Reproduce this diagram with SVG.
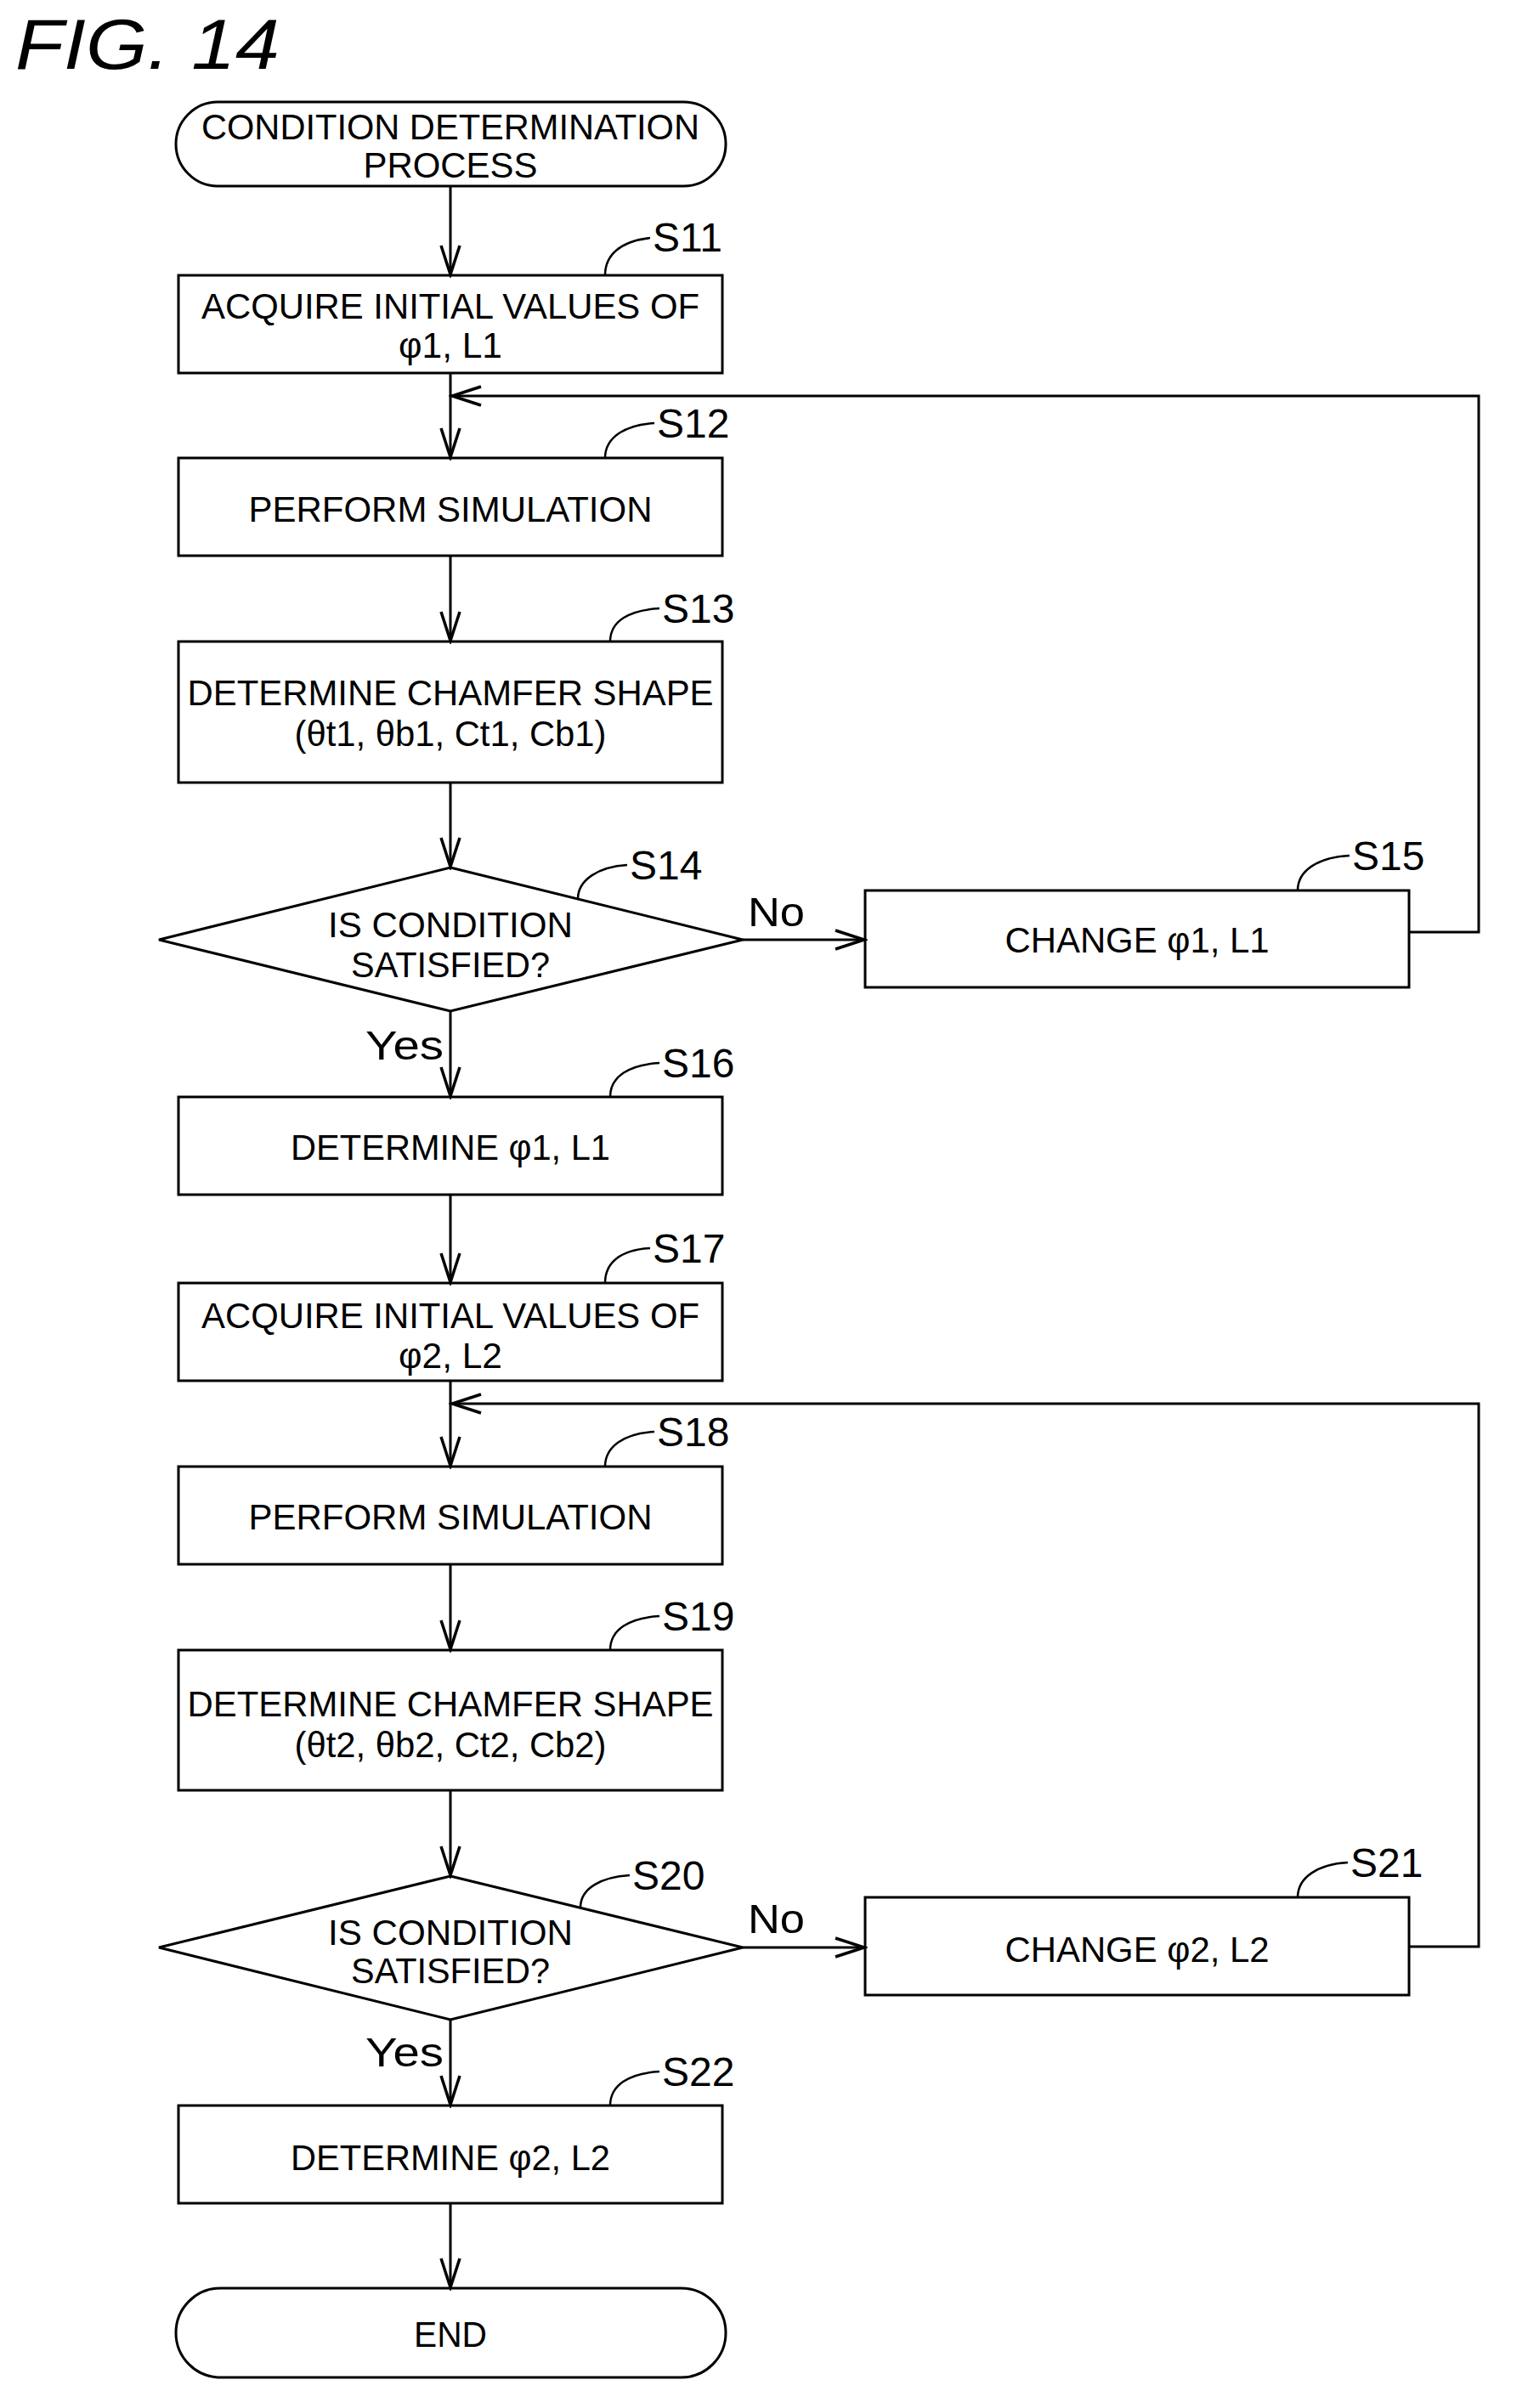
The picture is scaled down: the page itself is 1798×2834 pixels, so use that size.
<svg xmlns="http://www.w3.org/2000/svg" width="1798" height="2834" viewBox="0 0 1798 2834">
<style>
.b{fill:#fff;stroke:#000;stroke-width:3}
.t{font-family:"Liberation Sans",Arial,sans-serif;font-size:42px;text-anchor:middle;fill:#000}
.l{font-family:"Liberation Sans",Arial,sans-serif;font-size:48px;fill:#000}
.c{fill:none;stroke:#000;stroke-width:3;marker-end:url(#a)}
.h{fill:none;stroke:#000;stroke-width:2.5}
</style>
<defs><marker id="a" markerWidth="40" markerHeight="30" refX="36" refY="13" orient="auto" markerUnits="userSpaceOnUse" viewBox="0 0 40 26"><polyline points="2,2 36,13 2,24" fill="none" stroke="#000" stroke-width="3.5"/></marker></defs>
<rect width="1798" height="2834" fill="#fff"/>
<text x="18" y="81" font-family="Liberation Sans,Arial,sans-serif" font-style="italic" font-size="84" textLength="311" lengthAdjust="spacingAndGlyphs">FIG. 14</text>
<g id="S11"><rect class="b" x="210" y="324" width="640" height="115"/>
<text class="t" x="530" y="375" textLength="586" lengthAdjust="spacingAndGlyphs">ACQUIRE INITIAL VALUES OF</text>
<text class="t" x="530" y="421" textLength="122" lengthAdjust="spacingAndGlyphs">φ1, L1</text>
<path class="h" d="M712,324C712,300 730,284 765,280"/><text class="l" x="768" y="296">S11</text></g>
<g id="start"><rect class="b" x="207" y="120" width="647" height="99" rx="49.5"/>
<text class="t" x="530" y="164" textLength="586" lengthAdjust="spacingAndGlyphs">CONDITION DETERMINATION</text>
<text class="t" x="530" y="209" textLength="205" lengthAdjust="spacingAndGlyphs">PROCESS</text></g>
<g id="S12"><rect class="b" x="210" y="539" width="640" height="115"/>
<text class="t" x="530" y="614" textLength="475" lengthAdjust="spacingAndGlyphs">PERFORM SIMULATION</text>
<path class="h" d="M712,539C712,515 735,500 770,498"/><text class="l" x="773" y="515">S12</text></g>
<g id="S13"><rect class="b" x="210" y="755" width="640" height="166"/>
<text class="t" x="530" y="830" textLength="619" lengthAdjust="spacingAndGlyphs">DETERMINE CHAMFER SHAPE</text>
<text class="t" x="530" y="878" textLength="367" lengthAdjust="spacingAndGlyphs">(θt1, θb1, Ct1, Cb1)</text>
<path class="h" d="M718,755C718,731 740,718 776,716"/><text class="l" x="779" y="733">S13</text></g>
<g id="S14"><polygon class="b" points="530,1021 874,1106 530,1190 187,1106"/>
<text class="t" x="530" y="1103" textLength="288" lengthAdjust="spacingAndGlyphs">IS CONDITION</text>
<text class="t" x="530" y="1150" textLength="234" lengthAdjust="spacingAndGlyphs">SATISFIED?</text>
<path class="h" d="M680,1058C680,1035 705,1020 738,1018"/><text class="l" x="741" y="1035">S14</text></g>
<g id="S15"><rect class="b" x="1018" y="1048" width="640" height="114"/>
<text class="t" x="1338" y="1121" textLength="311" lengthAdjust="spacingAndGlyphs">CHANGE φ1, L1</text>
<path class="h" d="M1527,1048C1527,1025 1550,1009 1588,1007"/><text class="l" x="1591" y="1024">S15</text></g>
<g id="S16"><rect class="b" x="210" y="1291" width="640" height="115"/>
<text class="t" x="530" y="1365" textLength="376" lengthAdjust="spacingAndGlyphs">DETERMINE φ1, L1</text>
<path class="h" d="M718,1291C718,1267 740,1253 776,1251"/><text class="l" x="779" y="1268">S16</text></g>
<g id="S17"><rect class="b" x="210" y="1510" width="640" height="115"/>
<text class="t" x="530" y="1563" textLength="586" lengthAdjust="spacingAndGlyphs">ACQUIRE INITIAL VALUES OF</text>
<text class="t" x="530" y="1610" textLength="122" lengthAdjust="spacingAndGlyphs">φ2, L2</text>
<path class="h" d="M712,1510C712,1486 730,1471 765,1469"/><text class="l" x="768" y="1486">S17</text></g>
<g id="S18"><rect class="b" x="210" y="1726" width="640" height="115"/>
<text class="t" x="530" y="1800" textLength="475" lengthAdjust="spacingAndGlyphs">PERFORM SIMULATION</text>
<path class="h" d="M712,1726C712,1702 735,1687 770,1685"/><text class="l" x="773" y="1702">S18</text></g>
<g id="S19"><rect class="b" x="210" y="1942" width="640" height="165"/>
<text class="t" x="530" y="2020" textLength="619" lengthAdjust="spacingAndGlyphs">DETERMINE CHAMFER SHAPE</text>
<text class="t" x="530" y="2068" textLength="367" lengthAdjust="spacingAndGlyphs">(θt2, θb2, Ct2, Cb2)</text>
<path class="h" d="M718,1942C718,1918 740,1904 776,1902"/><text class="l" x="779" y="1919">S19</text></g>
<g id="S20"><polygon class="b" points="530,2208 874,2292 530,2377 187,2292"/>
<text class="t" x="530" y="2289" textLength="288" lengthAdjust="spacingAndGlyphs">IS CONDITION</text>
<text class="t" x="530" y="2334" textLength="234" lengthAdjust="spacingAndGlyphs">SATISFIED?</text>
<path class="h" d="M683,2245C683,2222 708,2209 741,2207"/><text class="l" x="744" y="2224">S20</text></g>
<g id="S21"><rect class="b" x="1018" y="2233" width="640" height="115"/>
<text class="t" x="1338" y="2309" textLength="311" lengthAdjust="spacingAndGlyphs">CHANGE φ2, L2</text>
<path class="h" d="M1527,2233C1527,2210 1550,2194 1586,2192"/><text class="l" x="1589" y="2209">S21</text></g>
<g id="S22"><rect class="b" x="210" y="2478" width="640" height="115"/>
<text class="t" x="530" y="2554" textLength="376" lengthAdjust="spacingAndGlyphs">DETERMINE φ2, L2</text>
<path class="h" d="M718,2478C718,2454 740,2440 776,2438"/><text class="l" x="779" y="2455">S22</text></g>
<g id="end"><rect class="b" x="207" y="2693" width="647" height="105" rx="52.5"/>
<text class="t" x="530" y="2762" textLength="86" lengthAdjust="spacingAndGlyphs">END</text></g>
<g id="connectors">
<path class="c" d="M530,219V323"/>
<path class="c" d="M530,439V538"/>
<path class="c" d="M530,654V754"/>
<path class="c" d="M530,921V1020"/>
<path class="c" d="M530,1190V1290"/>
<path class="c" d="M530,1406V1509"/>
<path class="c" d="M530,1625V1725"/>
<path class="c" d="M530,1841V1941"/>
<path class="c" d="M530,2107V2207"/>
<path class="c" d="M530,2377V2477"/>
<path class="c" d="M530,2593V2692"/>
<path class="c" d="M874,1106H1017"/>
<path class="c" d="M874,2292H1017"/>
<path class="c" d="M1658,1097H1740V466H532"/>
<path class="c" d="M1658,2291H1740V1652H532"/>
<text class="l" x="880" y="1090" textLength="67" lengthAdjust="spacingAndGlyphs">No</text>
<text class="l" x="880" y="2275" textLength="67" lengthAdjust="spacingAndGlyphs">No</text>
<text class="l" x="430" y="1247" textLength="92" lengthAdjust="spacingAndGlyphs">Yes</text>
<text class="l" x="430" y="2432" textLength="92" lengthAdjust="spacingAndGlyphs">Yes</text>
</g>
</svg>
